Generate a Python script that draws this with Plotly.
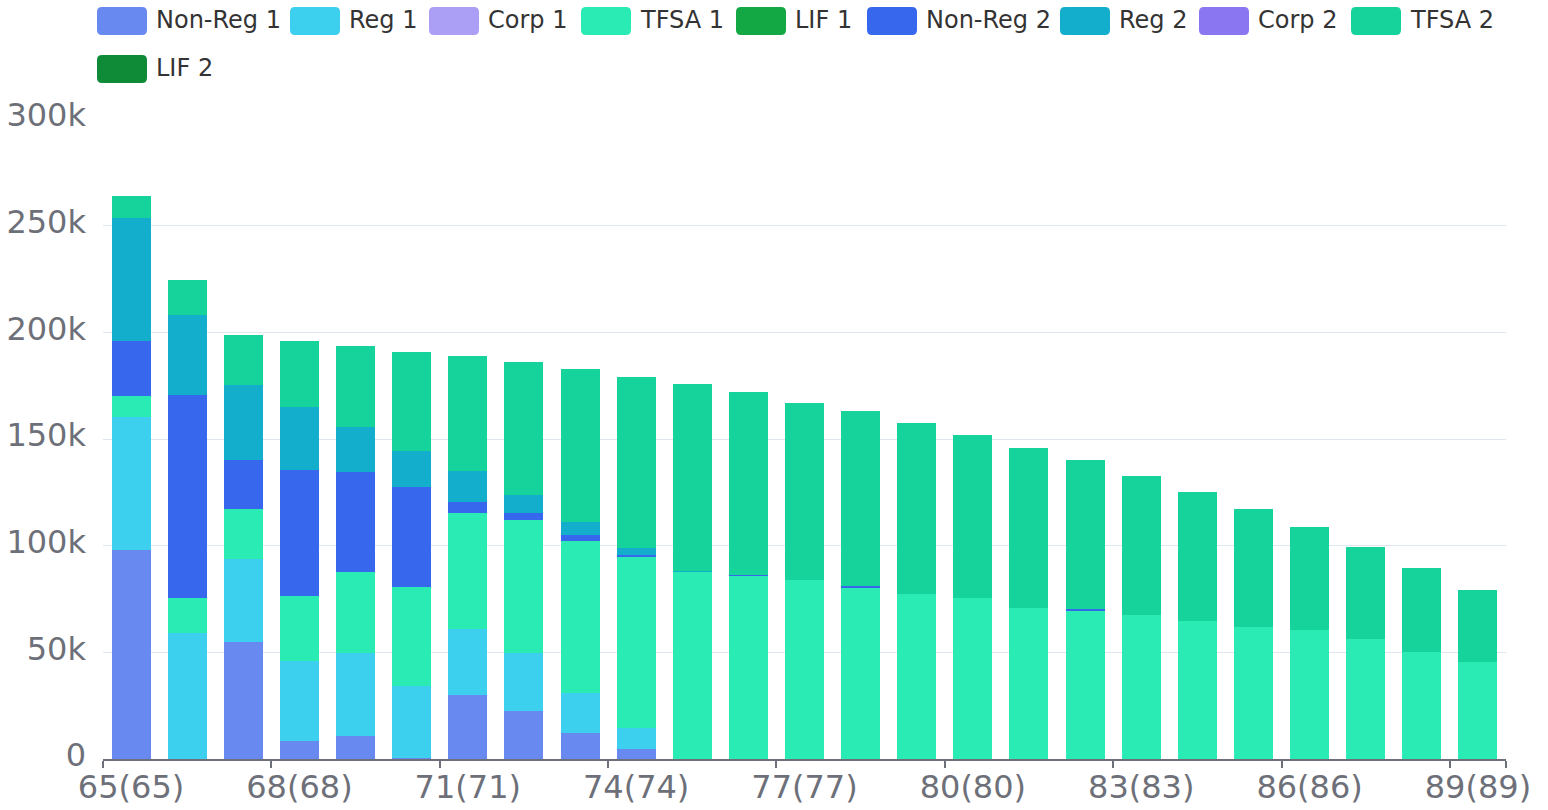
import plotly.graph_objects as go

# ---------------- data ----------------
ages = list(range(65, 90))
categories = [f"{a}({a})" for a in ages]

non_reg_1 = [98000, 0, 54800, 8400, 10800, 700, 30000, 22500, 12200, 4700,
             0, 0, 0, 0, 0, 0, 0, 0, 0, 0, 0, 0, 0, 0, 0]
reg_1 = [62300, 59100, 38900, 37500, 38900, 33300, 30900, 27200, 18800, 9800,
         0, 0, 0, 0, 0, 0, 0, 0, 0, 0, 0, 0, 0, 0, 0]
corp_1 = [0] * 25
tfsa_1 = [9800, 16400, 23400, 30500, 38000, 46400, 54400, 62300, 71300, 80200,
          87700, 85800, 83900, 80600, 77500, 75500, 70800, 69800, 67500, 64700,
          61900, 60500, 56300, 50200, 45500]
lif_1 = [0] * 25
non_reg_2 = [25800, 95200, 23000, 59100, 46900, 46900, 5200, 3300, 2800, 900,
             0, 500, 0, 400, 0, 0, 0, 400, 0, 0, 0, 0, 0, 0, 0]
reg_2 = [57700, 37500, 35200, 29500, 21100, 17300, 14500, 8400, 6100, 3300,
         400, 0, 0, 0, 0, 0, 0, 0, 0, 0, 0, 0, 0, 0, 0]
corp_2 = [0] * 25
tfsa_2 = [10300, 16400, 23400, 30900, 38000, 46400, 53900, 62300, 71700, 80200,
          87700, 85800, 83000, 82000, 80000, 76400, 75000, 69800, 65200, 60500,
          55300, 48300, 43100, 39400, 33800]
lif_2 = [0] * 25

series_names = ["Non-Reg 1", "Reg 1", "Corp 1", "TFSA 1", "LIF 1",
                "Non-Reg 2", "Reg 2", "Corp 2", "TFSA 2", "LIF 2"]
series_values = [non_reg_1, reg_1, corp_1, tfsa_1, lif_1,
                 non_reg_2, reg_2, corp_2, tfsa_2, lif_2]
series_colors = ["#6789f0", "#3ccfee", "#ab9ff5", "#2aebb4", "#14a844",
                 "#3767ec", "#14aecd", "#8a76f0", "#16d29b", "#0f8a37"]

y_ticks = [0, 50000, 100000, 150000, 200000, 250000, 300000]
y_ticktext = ["0", "50k", "100k", "150k", "200k", "250k", "300k"]

# ---------------- layout geometry (pixels) ----------------
W, H = 1548, 810
PL, PR, PT, PB = 103, 1506, 119, 759
FONT = "DejaVu Sans"
AXIS_COLOR = "#6e7079"


def px_x(x):
    return (x - PL) / (PR - PL)


def px_y(y):
    return (PB - y) / (PB - PT)


fig = go.Figure()
for name, vals, col in zip(series_names, series_values, series_colors):
    fig.add_trace(go.Bar(
        x=categories, y=vals, name=name,
        marker=dict(color=col, line=dict(width=0)),
        showlegend=False,
    ))

# ---------------- custom legend (large rounded swatches) ----------------
legend_swatch_x = [97, 290, 429, 581, 736, 867, 1060, 1199, 1351, 97]
legend_row_cy = [21, 21, 21, 21, 21, 21, 21, 21, 21, 69]
SW, SH, R = 50, 28, 5
shapes = []
annotations = []
for name, col, sx, cy in zip(series_names, series_colors, legend_swatch_x, legend_row_cy):
    x0, x1 = sx, sx + SW
    y0, y1 = cy - SH / 2, cy + SH / 2
    pts = [
        ("M", [(x0 + R, y0)]),
        ("L", [(x1 - R, y0)]),
        ("Q", [(x1, y0), (x1, y0 + R)]),
        ("L", [(x1, y1 - R)]),
        ("Q", [(x1, y1), (x1 - R, y1)]),
        ("L", [(x0 + R, y1)]),
        ("Q", [(x0, y1), (x0, y1 - R)]),
        ("L", [(x0, y0 + R)]),
        ("Q", [(x0, y0), (x0 + R, y0)]),
    ]
    path = " ".join(cmd + " " + " ".join(f"{px_x(a):.6f},{px_y(b):.6f}" for a, b in p)
                    for cmd, p in pts) + " Z"
    shapes.append(dict(type="path", path=path, xref="paper", yref="paper",
                       fillcolor=col, line=dict(width=0), layer="above"))
    annotations.append(dict(text=name, x=px_x(sx + SW + 7), y=px_y(cy - 1),
                            xref="paper", yref="paper", xanchor="left", yanchor="middle",
                            showarrow=False, font=dict(family=FONT, size=24, color="#333333")))

n = len(categories)

fig.update_layout(
    template="none",
    width=W, height=H,
    margin=dict(l=PL, r=W - PR, t=PT, b=H - PB, pad=0, autoexpand=False),
    paper_bgcolor="white", plot_bgcolor="white",
    barmode="stack", bargap=0.305,
    font=dict(family=FONT, color=AXIS_COLOR),
    shapes=shapes, annotations=annotations,
    xaxis=dict(
        type="category", categoryorder="array", categoryarray=categories,
        range=[-0.5, n - 0.5], automargin=False,
        tickvals=categories[::3], ticktext=categories[::3], tickangle=0,
        tickson="boundaries", ticks="outside", ticklen=7, tickwidth=1.5,
        tickcolor=AXIS_COLOR,
        showgrid=False, zeroline=False,
        showline=True, linecolor=AXIS_COLOR, linewidth=1.5,
        tickfont=dict(family=FONT, size=32, color=AXIS_COLOR),
        ticklabelstandoff=-1,
    ),
    yaxis=dict(
        range=[0, 300000], tickvals=y_ticks, ticktext=y_ticktext, automargin=False,
        showgrid=True, gridcolor="#e0e6f1", gridwidth=1.2,
        zeroline=False, showline=False, ticks="",
        tickfont=dict(family=FONT, size=32, color=AXIS_COLOR),
        ticklabelstandoff=16, ticklabelshift=-4,
    ),
)

fig.write_html("out.html", config={"displayModeBar": False},
               post_script="document.body.style.margin='0';document.body.style.overflow='hidden';")
